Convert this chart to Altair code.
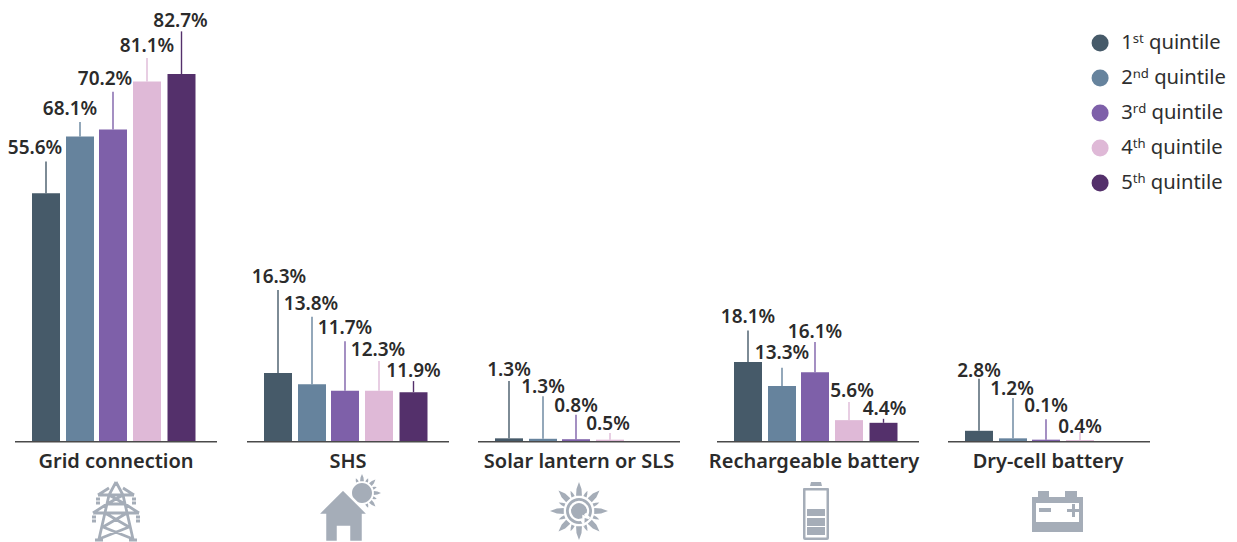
import math
import altair as alt
import pandas as pd

groups = ["Grid connection", "SHS", "Solar lantern or SLS", "Rechargeable battery", "Dry-cell battery"]
quintiles = ["1ˢᵗ quintile", "2ⁿᵈ quintile", "3ʳᵈ quintile", "4ᵗʰ quintile", "5ᵗʰ quintile"]
colors = ["#465a69", "#66839d", "#7e60a9", "#dfb9d7", "#54306b"]

# printed percentages
grid_labels = ["55.6%", "68.1%", "70.2%", "81.1%", "82.7%"]
shs_labels = ["16.3%", "13.8%", "11.7%", "12.3%", "11.9%"]
solar_labels = ["1.3%", "1.3%", "0.8%", "0.5%", None]
recharge_labels = ["18.1%", "13.3%", "16.1%", "5.6%", "4.4%"]
dry_labels = ["2.8%", "1.2%", "0.1%", "0.4%", None]

# bar heights as drawn
grid_bars = [55.8, 68.6, 70.2, 81.0, 82.7]
shs_bars = [15.3, 12.8, 11.3, 11.3, 11.0]
solar_bars = [0.6, 0.5, 0.4, 0.3, None]
recharge_bars = [17.8, 12.4, 15.5, 4.7, 4.1]
dry_bars = [2.3, 0.6, 0.3, 0.2, None]

# where each leader line ends, on the same value axis
grid_leaders = [63, 71.9, 78.7, 86.3, 92.3]
shs_leaders = [34.0, 28.0, 22.5, 18.0, 13.5]
solar_leaders = [13.5, 10.1, 5.9, 1.8, None]
recharge_leaders = [24.9, 16.5, 22.3, 8.8, 5.0]
dry_leaders = [14.0, 9.7, 4.9, 2.0, None]

# layout helpers (pixels)
PX = 4.438
slot_offsets = [-70, -36, -3, 31, 65.5]
group_nudges = [0, 1, 1, 9, 9]
label_shift = {
    0: [-11, -10, -8, 0, -1],
    1: [1, -1, 0, -1, 0],
    2: [0, 0, 0, -2, 0],
    3: [0, 0, 0, 3, 1],
    4: [0, -1, 0, 0, 0],
}
label_drop = {
    0: [0, 0, 0, 1, 3],
    1: [0, 0, 0, 2, 3],
    2: [2, 4, 4, 4, 0],
    3: [0, -2, 3, 2, 3],
    4: [5, 4, 0, 8, 0],
}
title_shift = [0, 0, 0, -4, -1]
icon_shift = [0, -5, 0, -2, 8]

rows = []
all_labels = [grid_labels, shs_labels, solar_labels, recharge_labels, dry_labels]
all_bars = [grid_bars, shs_bars, solar_bars, recharge_bars, dry_bars]
all_leaders = [grid_leaders, shs_leaders, solar_leaders, recharge_leaders, dry_leaders]
for g, name in enumerate(groups):
    for q, qn in enumerate(quintiles):
        if all_bars[g][q] is None:
            continue
        rows.append({
            "group": name, "quintile": qn, "value": all_bars[g][q],
            "leader": all_leaders[g][q], "label": all_labels[g][q],
            "label_y": all_leaders[g][q] - label_drop[g][q] / PX,
            "dx": group_nudges[g] + slot_offsets[q],
            "ldx": group_nudges[g] + slot_offsets[q] + label_shift[g][q],
        })
df = pd.DataFrame(rows)
gdf = pd.DataFrame({
    "group": groups,
    "dx": group_nudges,
    "tdx": [n + t for n, t in zip(group_nudges, title_shift)],
    "idx": [n + t for n, t in zip(group_nudges, icon_shift)],
    "y0": [0.0] * 5,
    "y1": [-1.5 / PX] * 5,
})

# icon outlines, in pixels around the icon's centre
def sun_path(cx, cy, r_in, r_long, r_short, wide, narrow, n=16, skip=()):
    parts = []
    for i in range(n):
        if i in skip:
            continue
        a = 2 * math.pi * i / n
        r = r_long if i % 2 == 0 else r_short
        w = wide if i % 2 == 0 else narrow
        pts = [(cx + r_in * math.cos(a - w), cy + r_in * math.sin(a - w)),
               (cx + (r_in + r) / 2 * math.cos(a - w * 0.6), cy + (r_in + r) / 2 * math.sin(a - w * 0.6)),
               (cx + r * math.cos(a), cy + r * math.sin(a)),
               (cx + (r_in + r) / 2 * math.cos(a + w * 0.6), cy + (r_in + r) / 2 * math.sin(a + w * 0.6)),
               (cx + r_in * math.cos(a + w), cy + r_in * math.sin(a + w))]
        parts.append("M" + "L".join(f"{x:.2f},{y:.2f}" for x, y in pts) + "Z")
    return "".join(parts)

def disc(cx, cy, r, cw=True):
    s = 1 if cw else 0
    return f"M{cx - r},{cy}A{r},{r} 0 1 {s} {cx + r},{cy}A{r},{r} 0 1 {s} {cx - r},{cy}Z"

def polar(r, deg):
    a = math.radians(deg)
    return f"{r * math.cos(a):.2f},{r * math.sin(a):.2f}"

tower_path = (
    "M0,-29L-7,-16L-17,28M0,-29L7,-16L17,28"
    "M-18,-16L18,-16M-18,-16L-7,-23M18,-16L7,-23"
    "M-23,2L23,2M-23,2L-9,-7M23,2L9,-7M-9,-7L9,-7"
    "M-7,-16L9,-7M7,-16L-9,-7"
    "M-11,2L13,16M11,2L-13,16M-13,16L17,28M13,16L-17,28"
    "M-21,29L-13,29M13,29L21,29"
    "M-20,-12L-16,-12M-20,-8L-16,-8M16,-12L20,-12M16,-8L20,-8"
    "M-24,6L-20,6M-24,10L-20,10M20,6L24,6M20,10L24,10"
)
house_path = (
    "M-26,4L0,-22L26,4L20,4L20,31L6,31L6,16L-5,16L-5,31L-18,31L-18,4Z"
)
house_sun_path = disc(19, -18, 10) + sun_path(19, -18, 12, 19, 16, 0.16, 0.12, skip=(4, 5, 6, 7, 8, 9, 10))
solar_path = disc(0, 0, 13) + sun_path(0, 0, 15.5, 29, 22, 0.19, 0.11)
solar_ring_path = (
    f"M{polar(9, 25)}A9,9 0 1 0 {polar(9, 75)}"
    f"L{polar(12.5, 70)}L{polar(7, 50)}L{polar(12.5, 35)}L{polar(6.5, 25)}"
    f"M{polar(6.5, 25)}Z"
)
solar_hole_path = disc(0, 0, 6.5)
battery_path = (
    "M-12,-23L12,-23Q13,-23 13,-22L13,27Q13,29 11,29L-11,29Q-13,29 -13,27L-13,-22Q-13,-23 -12,-23Z"
    "M-10.5,-20.5L-10.5,26.5L10.5,26.5L10.5,-20.5Z"
    "M-5,-29L5,-29L6,-25L-6,-25Z"
    "M-9,-2L9,-2L9,5L-9,5Z M-9,7L9,7L9,15L-9,15Z M-9,16L9,16L9,24L-9,24Z"
)
car_battery_path = (
    "M-25,-14L-19,-14L-19,-20L-8,-20L-8,-14L8,-14L8,-20L20,-20L20,-14L26,-14L26,21L-25,21Z"
    "M-21,-8L-21,11L22,11L22,-8Z"
    "M-18,-3L-6,-3L-6,1L-18,1Z"
    "M10,-2L15,-2L15,-7L18,-7L18,-2L23,-2L23,1L18,1L18,6L15,6L15,1L10,1Z"
)

x_scale = alt.Scale(domain=groups, range=[7, 1133], paddingInner=29 / 231, paddingOuter=0)
y_scale = alt.Scale(domain=[-101 / PX, 433 / PX], zero=False, nice=False)
off_scale = alt.Scale(domain=[-150, 150], range=[-49, 251])
X = alt.X("group:N", scale=x_scale, axis=None, sort=groups)
color = alt.Color(
    "quintile:N",
    scale=alt.Scale(domain=quintiles, range=colors),
    legend=alt.Legend(
        title=None, orient="none", legendX=1082, legendY=25, symbolType="circle",
        symbolSize=290, symbolStrokeWidth=0, labelFont="Noto Sans", labelFontSize=20.2,
        labelColor="#2e2e2e", rowPadding=14, labelOffset=11, labelLimit=200,
    ),
)

bars = alt.Chart(df).mark_bar(width=28).encode(
    x=X, xOffset=alt.XOffset("dx:Q", scale=off_scale),
    y=alt.Y("value:Q", scale=y_scale, axis=None), y2=alt.datum(0), color=color,
)
leaders = alt.Chart(df).mark_rule(strokeWidth=1.4).encode(
    x=X, xOffset=alt.XOffset("dx:Q", scale=off_scale),
    y=alt.Y("value:Q", scale=y_scale, axis=None), y2="leader:Q",
    color=alt.Color("quintile:N", scale=alt.Scale(domain=quintiles, range=colors), legend=None),
)
labels = alt.Chart(df).mark_text(
    font="Noto Sans", fontSize=19, fontWeight=600, color="#2b2b2b", dy=-13, baseline="middle",
).encode(
    x=X, xOffset=alt.XOffset("ldx:Q", scale=off_scale),
    y=alt.Y("label_y:Q", scale=y_scale, axis=None), text="label:N",
)
baseline = alt.Chart(gdf).mark_bar(width=202, color="#4a4a4a").encode(
    x=X, xOffset=alt.XOffset("dx:Q", scale=off_scale),
    y=alt.Y("y0:Q", scale=y_scale, axis=None), y2="y1:Q",
)
titles = alt.Chart(gdf).mark_text(
    font="Noto Sans", fontSize=20, fontWeight=600, color="#2b2b2b", baseline="middle",
).encode(
    x=X, xOffset=alt.XOffset("tdx:Q", scale=off_scale),
    y=alt.value(454), text="group:N",
)

GREY = "#a5adb8"

def icon(name, path, mode="fill"):
    d = gdf[gdf.group == name]
    kw = dict(shape=path, size=4, opacity=1)
    if mode == "stroke":
        kw.update(filled=False, stroke=GREY, strokeWidth=2.8)
    elif mode == "ring":
        kw.update(filled=False, stroke="white", strokeWidth=2.4)
    elif mode == "halo":
        kw.update(filled=True, fill=GREY, stroke="white", strokeWidth=2.5)
    else:
        kw.update(filled=True, fill=GREY, strokeWidth=0)
    return alt.Chart(d).mark_point(**kw).encode(
        x=X, xOffset=alt.XOffset("idx:Q", scale=off_scale), y=alt.value(503),
    )

chart = alt.layer(
    bars, leaders, baseline, labels, titles,
    icon(groups[0], tower_path, "stroke"),
    icon(groups[1], house_sun_path),
    icon(groups[1], house_path, "halo"),
    icon(groups[2], solar_path),
    icon(groups[2], solar_ring_path, "ring"),
    icon(groups[3], battery_path),
    icon(groups[4], car_battery_path),
).properties(
    width=1221, height=534, padding=0, autosize=alt.AutoSizeParams(type="none"),
).configure_view(stroke=None)

chart.save("out.html", embed_options={"renderer": "svg", "actions": False})
